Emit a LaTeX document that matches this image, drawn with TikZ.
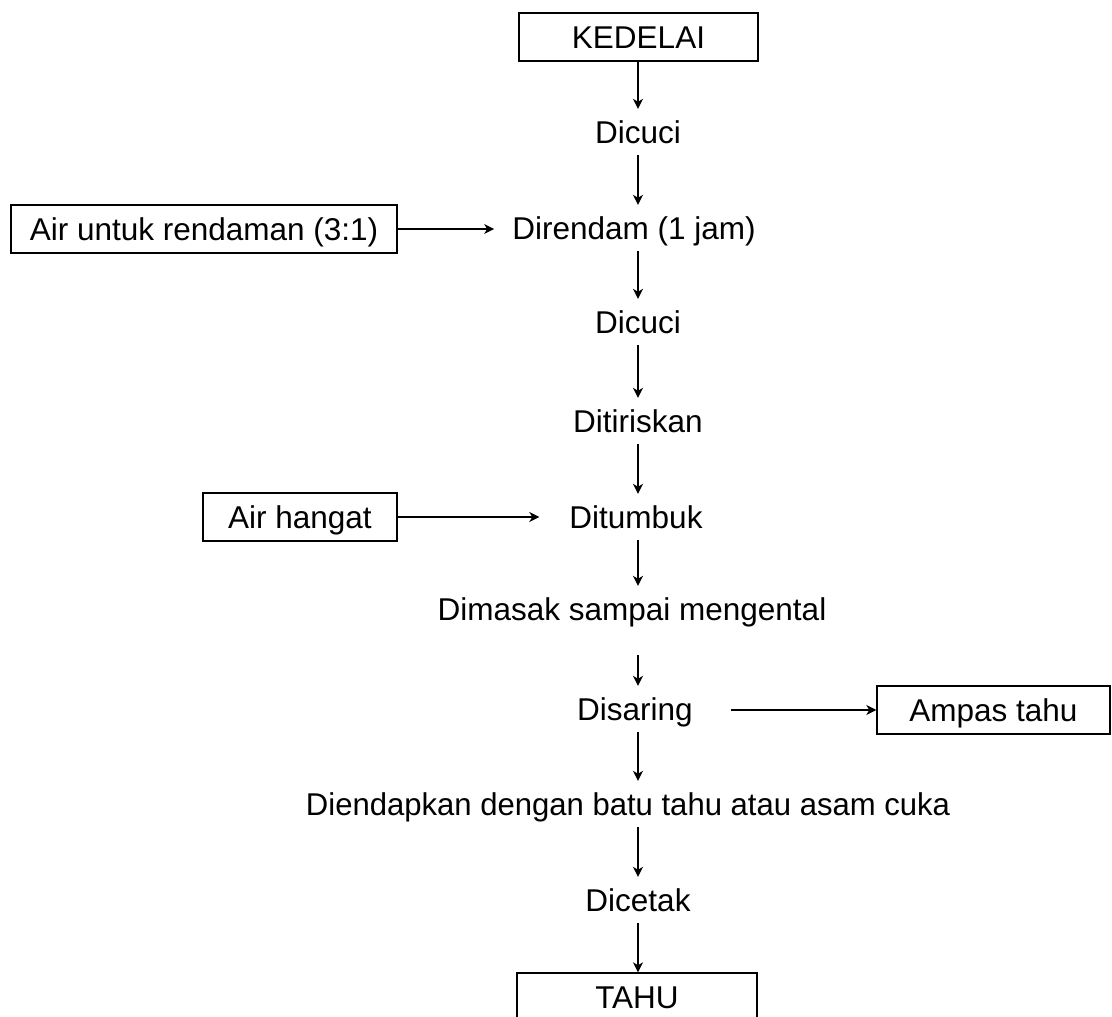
\documentclass[tikz,border=0pt]{standalone}
\usepackage{fontspec}
\setmainfont{Liberation Sans}
\usetikzlibrary{arrows.meta}
\begin{document}
\begin{tikzpicture}[x=1pt,y=-1pt,
  every node/.style={font=\fontsize{31.5}{38}\selectfont},
  stepnode/.style={inner xsep=0pt, inner ysep=11.5pt, text height=23pt, text depth=0pt},
  boxnode/.style={draw, line width=1.4pt, inner sep=0pt, minimum height=48pt, text height=23pt, text depth=0pt},
  arr/.style={line width=1.3pt, -{Stealth[length=10pt,width=10pt,inset=3pt]}}]
\useasboundingbox (0,0) rectangle (1112,1017);
\coordinate (col) at (638,0);
% boxes
\node[boxnode, minimum width=239pt] (kedelai) at (638.5,37) {KEDELAI};
\node[boxnode, minimum width=240pt] (tahu) at (637,997) {TAHU};
\node[boxnode, minimum width=386pt] (airrendam) at (204,229) {Air untuk rendaman (3:1)};
\node[boxnode, minimum width=194pt] (airhangat) at (300,517) {Air hangat};
\node[boxnode, minimum width=233pt] (ampas) at (993.5,710) {Ampas tahu};
% steps
\node[stepnode] (dicuci1) at (638,132) {Dicuci};
\node[stepnode] (direndam) at (634,228) {Direndam (1 jam)};
\node[stepnode] (dicuci2) at (638,322) {Dicuci};
\node[stepnode] (ditiriskan) at (638,421) {Ditiriskan};
\node[stepnode] (ditumbuk) at (636,517) {Ditumbuk};
\node[stepnode] (dimasak) at (632,609) {Dimasak sampai mengental};
\node[stepnode] (disaring) at (635,709) {Disaring};
\node[stepnode] (diendapkan) at (628,804) {\scalebox{0.986}[1]{Diendapkan dengan batu tahu atau asam cuka}};
\node[stepnode] (dicetak) at (638,900) {Dicetak};
% vertical arrows
\draw[arr] (kedelai.south -| col) -- (dicuci1.north -| col);
\draw[arr] (dicuci1.south -| col) -- (direndam.north -| col);
\draw[arr] (direndam.south -| col) -- (dicuci2.north -| col);
\draw[arr] (dicuci2.south -| col) -- (ditiriskan.north -| col);
\draw[arr] (ditiriskan.south -| col) -- (ditumbuk.north -| col);
\draw[arr] (ditumbuk.south -| col) -- (dimasak.north -| col);
\draw[arr, shorten <=23pt] (dimasak.south -| col) -- (disaring.north -| col);
\draw[arr] (disaring.south -| col) -- (diendapkan.north -| col);
\draw[arr] (diendapkan.south -| col) -- (dicetak.north -| col);
\draw[arr] (dicetak.south -| col) -- (tahu.north -| col);
% horizontal arrows
\draw[arr, shorten >=18pt] (airrendam.east) -- (direndam.west |- airrendam.east);
\draw[arr, shorten >=30pt] (airhangat.east) -- (ditumbuk.west |- airhangat.east);
\draw[arr, shorten <=38pt] (disaring.east |- ampas.west) -- (ampas.west);
\end{tikzpicture}
\end{document}
